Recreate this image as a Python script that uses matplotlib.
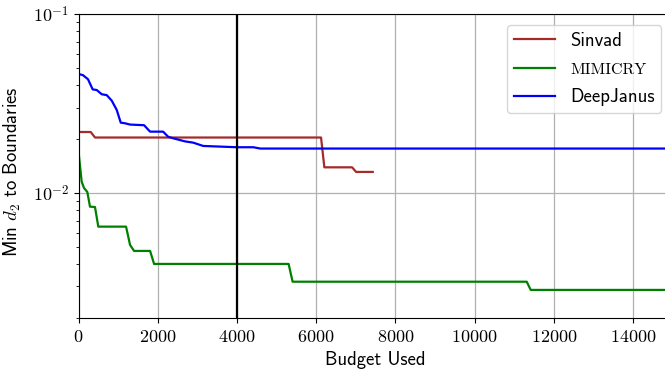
import numpy as np
import matplotlib
matplotlib.use("Agg")
import matplotlib.pyplot as plt
from matplotlib.ticker import FuncFormatter, LogLocator, NullFormatter

plt.rcParams['mathtext.fontset'] = 'cm'
plt.rcParams['axes.unicode_minus'] = False

# budget used vs. min d2 distance
sinvad_x = [0, 304, 413, 6122, 6206, 6907, 7008, 7428]
sinvad_y = [0.0219, 0.0219, 0.0204, 0.0204, 0.0139, 0.0139, 0.0131, 0.0131]

mimicry_x = [0, 76, 134, 218, 286, 412, 496, 1197, 1298, 1399, 1804, 1905,
             5303, 5404, 11317, 11418, 15000]
mimicry_y = [0.0167, 0.01156, 0.01066, 0.01013, 0.00838, 0.00834, 0.00648, 0.00648,
             0.00512, 0.00474, 0.00474, 0.00401, 0.00401, 0.00319, 0.00319,
             0.00287, 0.00287]

deepjanus_x = [0, 109, 235, 354, 455, 582, 708, 835, 961, 1063, 1171, 1298, 1652,
               1804, 2133, 2260, 2386, 2690, 2892, 3145, 4000, 4410, 4590, 15000]
deepjanus_y = [0.0462, 0.0455, 0.0432, 0.0379, 0.0376, 0.0356, 0.0352, 0.0328,
               0.0291, 0.0247, 0.0245, 0.0241, 0.0239, 0.0220, 0.0220, 0.0206,
               0.0202, 0.0194, 0.0191, 0.0183, 0.0180, 0.0180, 0.0177, 0.0177]

budget_mark = 4000

fig = plt.figure(figsize=(6.65, 3.72), dpi=100)
# the original figure runs a little past the right edge of the saved image
ax = fig.add_axes([0.1183, 0.1452, 0.893, 0.8172])

ax.plot(sinvad_x, sinvad_y, color='brown', lw=1.6, label='Sinvad')
ax.plot(mimicry_x, mimicry_y, color='green', lw=1.6, label='MIMICRY')
ax.plot(deepjanus_x, deepjanus_y, color='blue', lw=1.6, label='DeepJanus')
ax.axvline(budget_mark, color='black', lw=1.6)

ax.set_yscale('log')
ax.set_xlim(0, 15000)
ax.set_ylim(0.002, 0.1)
ax.set_xticks(np.arange(0, 15001, 2000))
ax.xaxis.set_major_formatter(FuncFormatter(lambda v, p: '$%d$' % v))
ax.yaxis.set_major_locator(LogLocator(base=10))
ax.yaxis.set_major_formatter(FuncFormatter(lambda v, p: '$10^{%d}$' % round(np.log10(v))))
ax.yaxis.set_minor_formatter(NullFormatter())
ax.tick_params(labelsize=13)
ax.grid(True, which='major', color='#b0b0b0', lw=0.9)

ax.set_xlabel('Budget Used', family='cmss10', fontsize=13.5)
ax.set_ylabel('Min $d_2$ to Boundaries', family='cmss10', fontsize=13.5)
ax.yaxis.set_label_coords(-0.094, 0.481)

leg = ax.legend(loc='upper right', prop={'family': 'cmss10', 'size': 13.5},
                borderaxespad=0.6, borderpad=0.35, labelspacing=0.6,
                handlelength=2.2, handletextpad=0.8)
leg.get_texts()[1].set_fontfamily('cmr10')
leg.get_texts()[1].set_fontsize(11.5)

plt.savefig('out.png')
